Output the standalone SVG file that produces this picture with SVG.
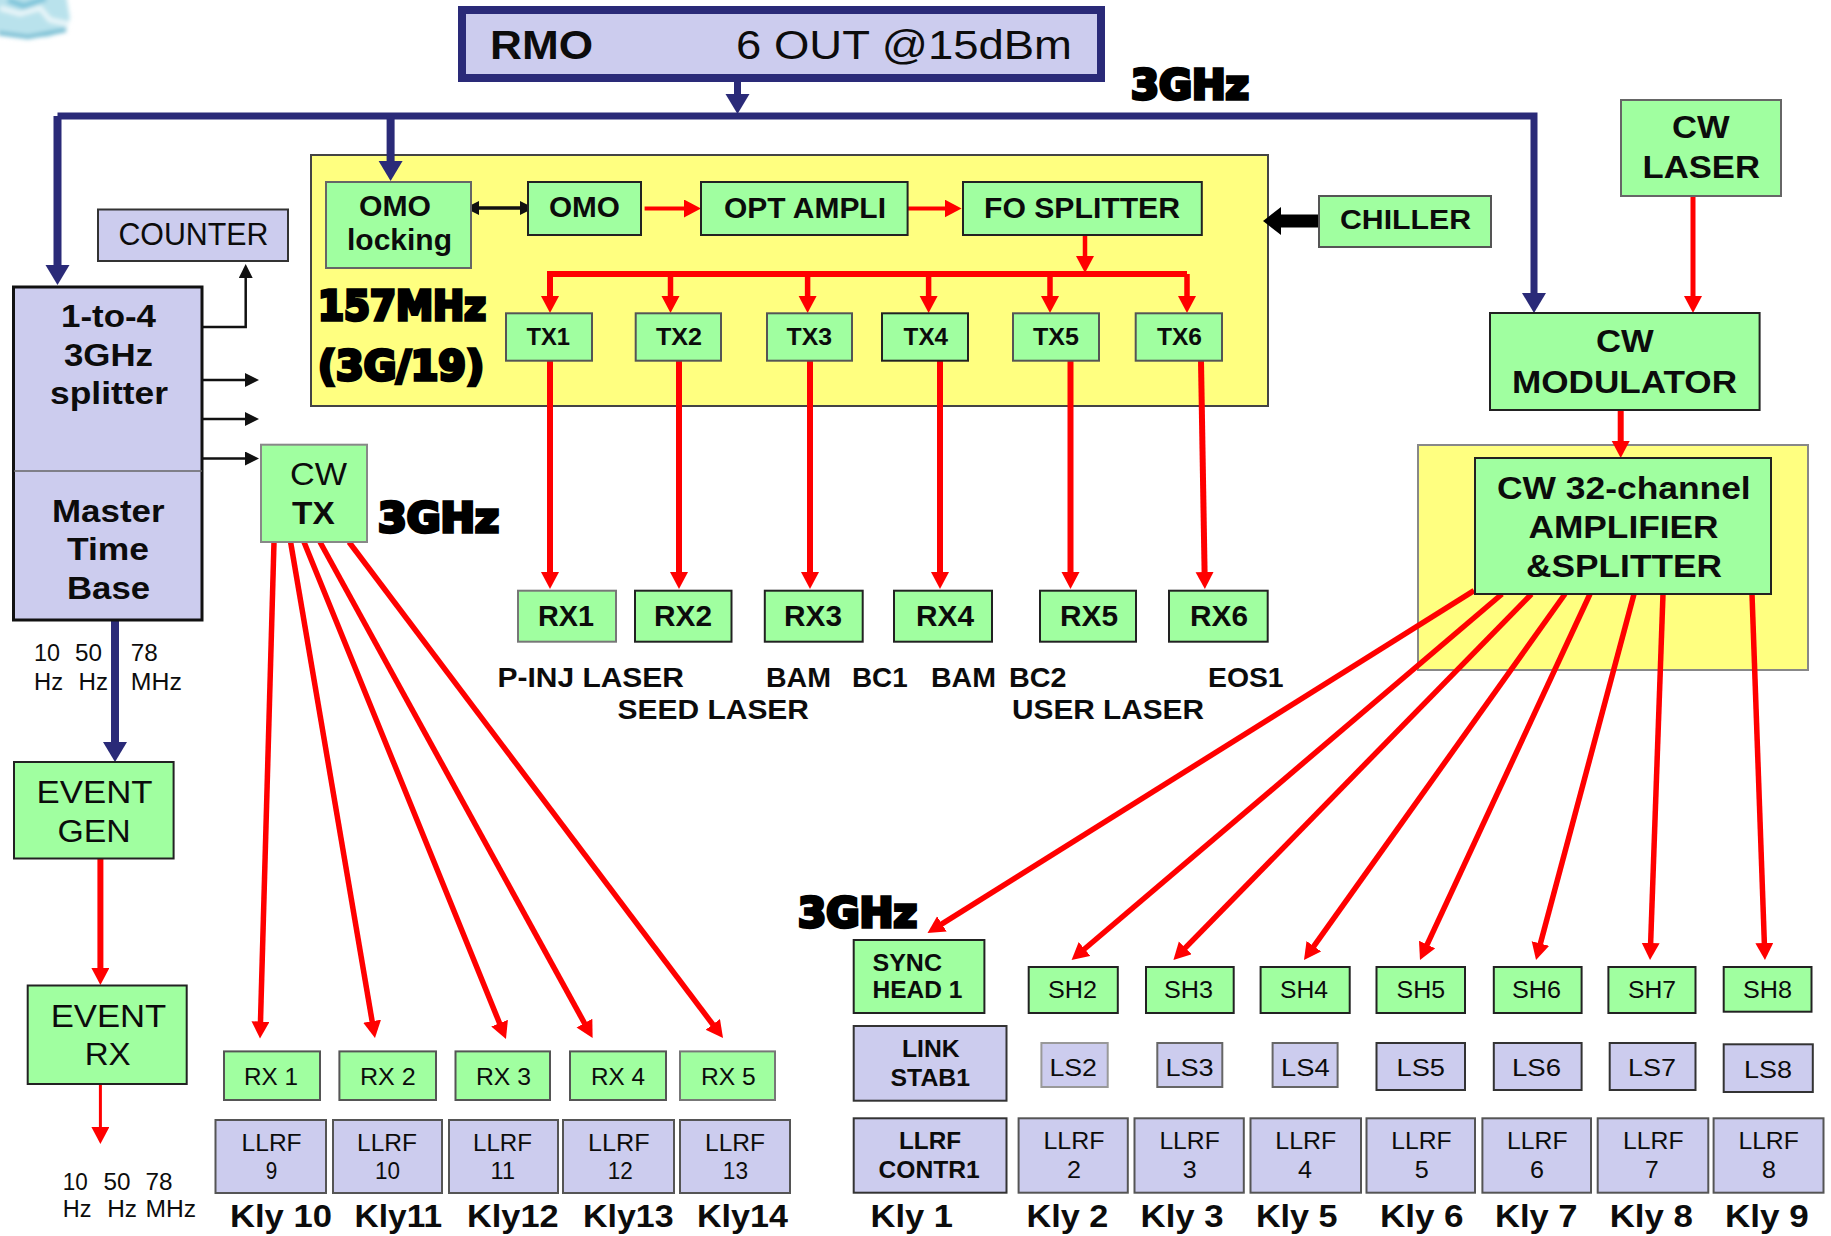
<svg xmlns="http://www.w3.org/2000/svg" width="1831" height="1236" viewBox="0 0 1831 1236">
<style>
text{font-family:"Liberation Sans",Arial,sans-serif;fill:#0c0c0c}
.b{font-weight:bold}
.s22{font-size:22px}.s23{font-size:23px}.s24{font-size:24px}.s27{font-size:27px}.s29{font-size:29px}.s31{font-size:31px}.s32{font-size:32px}.s40{font-size:40px}
.h{font-family:"DejaVu Sans",sans-serif;font-weight:bold;font-size:40px;fill:#000;stroke:#000;stroke-width:3.5px;paint-order:stroke}
.g{fill:#a0ffa0;stroke:#222;stroke-width:2}
.l{fill:#ccccee;stroke:#333;stroke-width:2}
.y{fill:#ffff80;stroke:#444;stroke-width:2}
.r{stroke:#ff0000;stroke-width:5.5;fill:none;marker-end:url(#ar)}
.n{stroke:#2a2a78;stroke-width:8;fill:none;marker-end:url(#an)}
.k{stroke:#111;stroke-width:2.5;fill:none;marker-end:url(#ak)}
</style>
<defs>
<marker id="ar" markerUnits="userSpaceOnUse" markerWidth="20" markerHeight="20" refX="7" refY="9" orient="auto"><path d="M0,0L17,9L0,18z" fill="#ff0000"/></marker>
<marker id="an" markerUnits="userSpaceOnUse" markerWidth="24" markerHeight="26" refX="8" refY="12" orient="auto"><path d="M0,0L20,12L0,24z" fill="#2a2a78"/></marker>
<marker id="ak" markerUnits="userSpaceOnUse" markerWidth="16" markerHeight="16" refX="6" refY="7" orient="auto"><path d="M0,0L14,7L0,14z" fill="#111"/></marker>
<marker id="ad" markerUnits="userSpaceOnUse" markerWidth="16" markerHeight="16" refX="6" refY="7" orient="auto-start-reverse"><path d="M0,0L14,7L0,14z" fill="#111"/></marker>
<marker id="ab" markerUnits="userSpaceOnUse" markerWidth="20" markerHeight="30" refX="0" refY="14" orient="auto"><path d="M0,0L18,14L0,28z" fill="#000"/></marker>
<filter id="soft" x="-20%" y="-20%" width="140%" height="140%"><feGaussianBlur stdDeviation="2"/></filter>
</defs>
<rect width="1831" height="1236" fill="#fff"/>
<g id="logo" filter="url(#soft)">
<path d="M-5,-5H66L70,18L66,30L48,37H12L-5,30z" fill="#b9e2ec"/>
<path d="M0,8L20,14L40,8L50,20L68,24" fill="none" stroke="#eaf6f9" stroke-width="5"/>
<path d="M-2,33L28,37L66,30" fill="none" stroke="#6db9d0" stroke-width="4"/>
<path d="M8,0L24,6L46,-2" fill="none" stroke="#7fc5da" stroke-width="6"/>
</g>
<g id="panel-fo"><rect class="y" x="311" y="155" width="957" height="251"/></g>
<g id="panel-cw"><rect x="1418" y="445" width="390" height="225" fill="#ffff80" stroke="#888" stroke-width="2"/></g>
<g id="connectors">
<path d="M737.5,82V102" class="n" style="stroke-width:7"/>
<path d="M57.5,116V273" class="n"/>
<path d="M57.5,116H1534V301" class="n" style="stroke-width:7"/>
<path d="M390.6,116V169" class="n"/>
<path d="M115,621V750" class="n"/>
<path d="M202,327H245.7V272" class="k"/>
<path d="M202,380H251" class="k"/>
<path d="M202,419H251" class="k"/>
<path d="M202,458.5H251" class="k"/>
<path d="M473,208H526" fill="none" stroke="#111" stroke-width="3.5" marker-start="url(#ad)" marker-end="url(#ad)"/>
<path d="M644.6,208.5H691" class="r" style="stroke-width:4"/>
<path d="M906,208.5H951.6" class="r" style="stroke-width:4"/>
<path d="M1085,235V263" class="r" style="stroke-width:4.5"/>
<path d="M550,303V274H1187" fill="none" stroke="#ff0000" stroke-width="6" marker-end="none"/>
<path d="M550,274V303" class="r"/>
<path d="M670.5,274V303" class="r"/>
<path d="M807.6,274V303" class="r"/>
<path d="M928.6,274V303" class="r"/>
<path d="M1050,274V303" class="r"/>
<path d="M1187,274V303" class="r"/>
<path d="M550,361V579" class="r" style="stroke-width:6"/>
<path d="M679,361V579" class="r" style="stroke-width:6"/>
<path d="M810,361V579" class="r" style="stroke-width:6"/>
<path d="M940,361V579" class="r" style="stroke-width:6"/>
<path d="M1070.5,361V579" class="r" style="stroke-width:6"/>
<path d="M1201,361L1204.7,579" class="r" style="stroke-width:6"/>
<path d="M100.4,858V975" class="r" style="stroke-width:6"/>
<path d="M100.4,1084V1134" class="r" style="stroke-width:3"/>
<path d="M274,542L260.3,1028.5" class="r"/>
<path d="M290.6,542L373.3,1028.1" class="r"/>
<path d="M304,542L502.2,1029.7" class="r"/>
<path d="M320,542L587.8,1029.2" class="r"/>
<path d="M349,542L717,1030" class="r"/>
<path d="M1693,196V303" class="r" style="stroke-width:5"/>
<path d="M1620.7,410V448" class="r" style="stroke-width:6"/>
<path d="M1319,221H1281" fill="none" stroke="#000" stroke-width="13" marker-end="url(#ab)"/>
<path d="M1474,590.6L936,927.7" class="r"/>
<path d="M1502,594L1079.2,953.5" class="r"/>
<path d="M1531.5,594L1180.4,952.9" class="r"/>
<path d="M1565,594L1309.8,951.9" class="r"/>
<path d="M1590,594L1424.2,950.9" class="r"/>
<path d="M1634,594L1538.6,950.3" class="r"/>
<path d="M1663,594L1650.4,950" class="r"/>
<path d="M1752,594L1764.6,950" class="r"/>
</g>
<g id="rmo"><rect x="462" y="10" width="639" height="68" fill="#ccccee" stroke="#2a2a78" stroke-width="8"/>
<text class="b s40" x="490" y="58.5" textLength="103" lengthAdjust="spacingAndGlyphs">RMO</text>
<text class="s40" x="736" y="59" textLength="336" lengthAdjust="spacingAndGlyphs">6 OUT @15dBm</text></g>
<g id="label-3ghz-top"><text class="h" x="1131" y="99" textLength="118" lengthAdjust="spacingAndGlyphs">3GHz</text></g>
<g id="omo-locking"><rect class="g" style="stroke:#666" x="326" y="182" width="145" height="86"/>
<text class="b s29" x="359" y="216" textLength="72" lengthAdjust="spacingAndGlyphs">OMO</text>
<text class="b s29" x="347" y="250" textLength="105" lengthAdjust="spacingAndGlyphs">locking</text></g>
<g id="omo"><rect class="g" x="528" y="182" width="113" height="53"/><text class="b s29" x="549" y="216.6" textLength="71" lengthAdjust="spacingAndGlyphs">OMO</text></g>
<g id="opt-ampli"><rect class="g" x="701" y="182" width="206.6" height="53"/><text class="b s29" x="724" y="217.7" textLength="162" lengthAdjust="spacingAndGlyphs">OPT AMPLI</text></g>
<g id="fo-splitter"><rect class="g" x="963" y="182" width="238.8" height="53"/><text class="b s29" x="984" y="217.7" textLength="196" lengthAdjust="spacingAndGlyphs">FO SPLITTER</text></g>
<g id="label-157"><text class="h" x="318" y="320" textLength="168" lengthAdjust="spacingAndGlyphs">157MHz</text><text class="h" x="318" y="380" textLength="166" lengthAdjust="spacingAndGlyphs">(3G/19)</text></g>
<g id="tx1"><rect class="g" style="stroke:#555" x="506" y="313.3" width="86" height="47.4"/><text class="b s24" x="526.5" y="345" textLength="43.5" lengthAdjust="spacingAndGlyphs">TX1</text></g>
<g id="tx2"><rect class="g" style="stroke:#555" x="635.7" y="313.3" width="85.3" height="47.4"/><text class="b s24" x="656" y="345" textLength="46" lengthAdjust="spacingAndGlyphs">TX2</text></g>
<g id="tx3"><rect class="g" style="stroke:#555" x="767" y="313.3" width="85" height="47.4"/><text class="b s24" x="786.6" y="345" textLength="45.4" lengthAdjust="spacingAndGlyphs">TX3</text></g>
<g id="tx4"><rect class="g" x="882" y="313.3" width="86" height="47.4"/><text class="b s24" x="903.6" y="345" textLength="44.4" lengthAdjust="spacingAndGlyphs">TX4</text></g>
<g id="tx5"><rect class="g" style="stroke:#555" x="1013" y="313.3" width="86" height="47.4"/><text class="b s24" x="1033" y="345" textLength="46" lengthAdjust="spacingAndGlyphs">TX5</text></g>
<g id="tx6"><rect class="g" style="stroke:#555" x="1135.7" y="313.3" width="86.3" height="47.4"/><text class="b s24" x="1157" y="345" textLength="45" lengthAdjust="spacingAndGlyphs">TX6</text></g>
<g id="rx1"><rect class="g" style="stroke:#777" x="518" y="590.7" width="98" height="51"/><text class="b s29" x="538" y="626" textLength="56" lengthAdjust="spacingAndGlyphs">RX1</text></g>
<g id="rx2"><rect class="g" x="635" y="590.7" width="96.5" height="51"/><text class="b s29" x="654" y="626" textLength="58" lengthAdjust="spacingAndGlyphs">RX2</text></g>
<g id="rx3"><rect class="g" x="764.8" y="590.7" width="97.9" height="51"/><text class="b s29" x="784" y="626" textLength="58" lengthAdjust="spacingAndGlyphs">RX3</text></g>
<g id="rx4"><rect class="g" x="894" y="590.7" width="98" height="51"/><text class="b s29" x="916" y="626" textLength="58" lengthAdjust="spacingAndGlyphs">RX4</text></g>
<g id="rx5"><rect class="g" x="1040" y="590.7" width="96" height="51"/><text class="b s29" x="1060" y="626" textLength="58" lengthAdjust="spacingAndGlyphs">RX5</text></g>
<g id="rx6"><rect class="g" x="1169" y="590.7" width="98.7" height="51"/><text class="b s29" x="1190" y="626" textLength="58" lengthAdjust="spacingAndGlyphs">RX6</text></g>
<g id="laser-labels">
<text class="b s27" x="497.5" y="687" textLength="186.5" lengthAdjust="spacingAndGlyphs">P-INJ LASER</text>
<text class="b s27" x="766" y="687" textLength="65" lengthAdjust="spacingAndGlyphs">BAM</text>
<text class="b s27" x="852" y="687" textLength="55.7" lengthAdjust="spacingAndGlyphs">BC1</text>
<text class="b s27" x="931" y="687" textLength="65" lengthAdjust="spacingAndGlyphs">BAM</text>
<text class="b s27" x="1009" y="687" textLength="57.5" lengthAdjust="spacingAndGlyphs">BC2</text>
<text class="b s27" x="1208" y="687" textLength="75.6" lengthAdjust="spacingAndGlyphs">EOS1</text>
<text class="b s27" x="617.6" y="719" textLength="191.4" lengthAdjust="spacingAndGlyphs">SEED LASER</text>
<text class="b s27" x="1012" y="719" textLength="192" lengthAdjust="spacingAndGlyphs">USER LASER</text>
</g>
<g id="counter"><rect class="l" x="98" y="209.5" width="190" height="51.5"/><text class="s31" x="118.4" y="245" textLength="150" lengthAdjust="spacingAndGlyphs">COUNTER</text></g>
<g id="splitter"><rect x="13.5" y="287" width="188.5" height="333" fill="#ccccee" stroke="#111" stroke-width="3"/><line x1="14" y1="471" x2="202" y2="471" stroke="#666" stroke-width="1.5"/>
<text class="b s31" x="61" y="327" textLength="95" lengthAdjust="spacingAndGlyphs">1-to-4</text>
<text class="b s31" x="64" y="365.6" textLength="89" lengthAdjust="spacingAndGlyphs">3GHz</text>
<text class="b s31" x="50" y="404" textLength="118" lengthAdjust="spacingAndGlyphs">splitter</text>
<text class="b s31" x="52" y="522" textLength="112.5" lengthAdjust="spacingAndGlyphs">Master</text>
<text class="b s31" x="67" y="560" textLength="82" lengthAdjust="spacingAndGlyphs">Time</text>
<text class="b s31" x="67" y="599" textLength="83" lengthAdjust="spacingAndGlyphs">Base</text></g>
<g id="cw-tx"><rect class="g" style="stroke:#888" x="261" y="444.7" width="106" height="97.3"/>
<text class="s31" x="290" y="485" textLength="57" lengthAdjust="spacingAndGlyphs">CW</text>
<text class="b s31" x="292" y="523.7" textLength="42.7" lengthAdjust="spacingAndGlyphs">TX</text></g>
<g id="label-3ghz-cwtx"><text class="h" x="378" y="532" textLength="121" lengthAdjust="spacingAndGlyphs">3GHz</text></g>
<g id="rates-top">
<text class="s23" x="34" y="661" textLength="26" lengthAdjust="spacingAndGlyphs">10</text>
<text class="s23" x="75" y="661" textLength="27" lengthAdjust="spacingAndGlyphs">50</text>
<text class="s23" x="130.8" y="661" textLength="27" lengthAdjust="spacingAndGlyphs">78</text>
<text class="s23" x="34" y="689.5" textLength="29" lengthAdjust="spacingAndGlyphs">Hz</text>
<text class="s23" x="78.5" y="689.5" textLength="29.5" lengthAdjust="spacingAndGlyphs">Hz</text>
<text class="s23" x="130.8" y="689.5" textLength="51" lengthAdjust="spacingAndGlyphs">MHz</text>
</g>
<g id="event-gen"><rect class="g" x="14" y="762" width="159.6" height="96.5"/>
<text class="s32" x="36.6" y="802.7" textLength="116" lengthAdjust="spacingAndGlyphs">EVENT</text>
<text class="s32" x="57.5" y="842" textLength="73.3" lengthAdjust="spacingAndGlyphs">GEN</text></g>
<g id="event-rx"><rect class="g" x="27.7" y="985.5" width="159" height="98.5"/>
<text class="s32" x="50.7" y="1026.7" textLength="115.6" lengthAdjust="spacingAndGlyphs">EVENT</text>
<text class="s32" x="84.7" y="1065" textLength="46" lengthAdjust="spacingAndGlyphs">RX</text></g>
<g id="rates-bottom">
<text class="s23" x="62.8" y="1189.7" textLength="25" lengthAdjust="spacingAndGlyphs">10</text>
<text class="s23" x="103.6" y="1189.7" textLength="27" lengthAdjust="spacingAndGlyphs">50</text>
<text class="s23" x="145.4" y="1189.7" textLength="27" lengthAdjust="spacingAndGlyphs">78</text>
<text class="s23" x="62.8" y="1217" textLength="28.7" lengthAdjust="spacingAndGlyphs">Hz</text>
<text class="s23" x="107.2" y="1217" textLength="29.8" lengthAdjust="spacingAndGlyphs">Hz</text>
<text class="s23" x="145.4" y="1217" textLength="50.6" lengthAdjust="spacingAndGlyphs">MHz</text>
</g>
<g id="rx-1"><rect class="g" style="stroke:#555" x="224" y="1051.4" width="96" height="48.6"/><text class="s24" x="244" y="1085" textLength="54" lengthAdjust="spacingAndGlyphs">RX 1</text></g>
<g id="rx-2"><rect class="g" style="stroke:#555" x="339.4" y="1051.4" width="96.6" height="48.6"/><text class="s24" x="360" y="1085" textLength="55.8" lengthAdjust="spacingAndGlyphs">RX 2</text></g>
<g id="rx-3"><rect class="g" style="stroke:#555" x="455.5" y="1051.4" width="94.5" height="48.6"/><text class="s24" x="476" y="1085" textLength="55" lengthAdjust="spacingAndGlyphs">RX 3</text></g>
<g id="rx-4"><rect class="g" style="stroke:#555" x="570" y="1051.4" width="96" height="48.6"/><text class="s24" x="591" y="1085" textLength="54" lengthAdjust="spacingAndGlyphs">RX 4</text></g>
<g id="rx-5"><rect class="g" style="stroke:#777" x="680" y="1051.4" width="95" height="48.6"/><text class="s24" x="701" y="1085" textLength="54.7" lengthAdjust="spacingAndGlyphs">RX 5</text></g>
<g id="llrf-9"><rect class="l" style="stroke:#555" x="215.5" y="1120" width="110.5" height="73"/><text class="s24" x="241.6" y="1151" textLength="60" lengthAdjust="spacingAndGlyphs">LLRF</text><text class="s24" x="265.7" y="1179" textLength="11.5" lengthAdjust="spacingAndGlyphs">9</text></g>
<g id="llrf-10"><rect class="l" style="stroke:#555" x="333" y="1120" width="109" height="73"/><text class="s24" x="357" y="1151" textLength="60" lengthAdjust="spacingAndGlyphs">LLRF</text><text class="s24" x="375" y="1179" textLength="25" lengthAdjust="spacingAndGlyphs">10</text></g>
<g id="llrf-11"><rect class="l" style="stroke:#555" x="449" y="1120" width="109" height="73"/><text class="s24" x="473" y="1151" textLength="59" lengthAdjust="spacingAndGlyphs">LLRF</text><text class="s24" x="490.6" y="1179" textLength="24.4" lengthAdjust="spacingAndGlyphs">11</text></g>
<g id="llrf-12"><rect class="l" style="stroke:#555" x="563" y="1120" width="111" height="73"/><text class="s24" x="588" y="1151" textLength="61.6" lengthAdjust="spacingAndGlyphs">LLRF</text><text class="s24" x="607.7" y="1179" textLength="25" lengthAdjust="spacingAndGlyphs">12</text></g>
<g id="llrf-13"><rect class="l" style="stroke:#555" x="680" y="1120" width="110" height="73"/><text class="s24" x="705" y="1151" textLength="60" lengthAdjust="spacingAndGlyphs">LLRF</text><text class="s24" x="722.8" y="1179" textLength="25.2" lengthAdjust="spacingAndGlyphs">13</text></g>
<g id="kly-left">
<text class="b s31" x="230" y="1227" textLength="102" lengthAdjust="spacingAndGlyphs">Kly 10</text>
<text class="b s31" x="354.6" y="1227" textLength="87.4" lengthAdjust="spacingAndGlyphs">Kly11</text>
<text class="b s31" x="467" y="1227" textLength="91.6" lengthAdjust="spacingAndGlyphs">Kly12</text>
<text class="b s31" x="583" y="1227" textLength="90.6" lengthAdjust="spacingAndGlyphs">Kly13</text>
<text class="b s31" x="697" y="1227" textLength="91" lengthAdjust="spacingAndGlyphs">Kly14</text>
</g>
<g id="chiller"><rect class="g" style="stroke:#555" x="1319" y="196" width="172" height="51"/><text class="b s27" x="1340" y="229.4" textLength="131" lengthAdjust="spacingAndGlyphs">CHILLER</text></g>
<g id="cw-laser"><rect class="g" style="stroke:#666" x="1621" y="100" width="160" height="96"/>
<text class="b s31" x="1672" y="137.5" textLength="57.6" lengthAdjust="spacingAndGlyphs">CW</text>
<text class="b s31" x="1642.6" y="177.5" textLength="117.4" lengthAdjust="spacingAndGlyphs">LASER</text></g>
<g id="cw-modulator"><rect class="g" x="1490" y="313" width="269.6" height="97"/>
<text class="b s31" x="1596" y="352" textLength="57.7" lengthAdjust="spacingAndGlyphs">CW</text>
<text class="b s31" x="1512" y="392.6" textLength="225" lengthAdjust="spacingAndGlyphs">MODULATOR</text></g>
<g id="cw-amp"><rect class="g" x="1475" y="458" width="296" height="136"/>
<text class="b s31" x="1497" y="498.8" textLength="253.7" lengthAdjust="spacingAndGlyphs">CW 32-channel</text>
<text class="b s31" x="1528.5" y="537.6" textLength="190" lengthAdjust="spacingAndGlyphs">AMPLIFIER</text>
<text class="b s31" x="1526" y="577" textLength="196" lengthAdjust="spacingAndGlyphs">&amp;SPLITTER</text></g>
<g id="label-3ghz-bottom"><text class="h" x="798" y="927" textLength="119" lengthAdjust="spacingAndGlyphs">3GHz</text></g>
<g id="sync-head"><rect class="g" x="853.7" y="940" width="130.7" height="73"/>
<text class="b s23" x="872.5" y="970.7" textLength="69.5" lengthAdjust="spacingAndGlyphs">SYNC</text>
<text class="b s23" x="872.5" y="998.3" textLength="89.8" lengthAdjust="spacingAndGlyphs">HEAD 1</text></g>
<g id="sh2"><rect class="g" x="1028.7" y="967" width="89.1" height="46"/><text class="s23" x="1048" y="997.7" textLength="49" lengthAdjust="spacingAndGlyphs">SH2</text></g>
<g id="sh3"><rect class="g" x="1146" y="967" width="87.7" height="46"/><text class="s23" x="1164" y="997.7" textLength="49" lengthAdjust="spacingAndGlyphs">SH3</text></g>
<g id="sh4"><rect class="g" x="1260.6" y="967" width="89.1" height="46"/><text class="s23" x="1280" y="997.7" textLength="48" lengthAdjust="spacingAndGlyphs">SH4</text></g>
<g id="sh5"><rect class="g" x="1376.5" y="967" width="88.5" height="46"/><text class="s23" x="1396.6" y="997.7" textLength="48.4" lengthAdjust="spacingAndGlyphs">SH5</text></g>
<g id="sh6"><rect class="g" x="1493.8" y="967" width="87.8" height="46"/><text class="s23" x="1512" y="997.7" textLength="49" lengthAdjust="spacingAndGlyphs">SH6</text></g>
<g id="sh7"><rect class="g" x="1608.4" y="967" width="87.1" height="46"/><text class="s23" x="1628" y="997.7" textLength="48" lengthAdjust="spacingAndGlyphs">SH7</text></g>
<g id="sh8"><rect class="g" x="1723.7" y="967" width="87.8" height="44.7"/><text class="s23" x="1743" y="997.7" textLength="49" lengthAdjust="spacingAndGlyphs">SH8</text></g>
<g id="link-stab"><rect class="l" x="853.7" y="1026" width="152.8" height="74.7"/>
<text class="b s23" x="902" y="1057" textLength="57.6" lengthAdjust="spacingAndGlyphs">LINK</text>
<text class="b s23" x="890.6" y="1086" textLength="79.4" lengthAdjust="spacingAndGlyphs">STAB1</text></g>
<g id="ls2"><rect class="l" style="stroke:#999" x="1041.4" y="1043" width="66.3" height="44"/><text class="s24" x="1049.4" y="1075.7" textLength="47.6" lengthAdjust="spacingAndGlyphs">LS2</text></g>
<g id="ls3"><rect class="l" style="stroke:#666" x="1157.3" y="1043" width="65" height="44"/><text class="s24" x="1165.4" y="1075.7" textLength="48.2" lengthAdjust="spacingAndGlyphs">LS3</text></g>
<g id="ls4"><rect class="l" style="stroke:#666" x="1272.6" y="1043" width="65" height="44"/><text class="s24" x="1281" y="1075.7" textLength="48.6" lengthAdjust="spacingAndGlyphs">LS4</text></g>
<g id="ls5"><rect class="l" x="1376.5" y="1043" width="88.5" height="47"/><text class="s24" x="1396.6" y="1075.7" textLength="48.4" lengthAdjust="spacingAndGlyphs">LS5</text></g>
<g id="ls6"><rect class="l" x="1493.8" y="1043" width="87.8" height="47"/><text class="s24" x="1512" y="1075.7" textLength="49" lengthAdjust="spacingAndGlyphs">LS6</text></g>
<g id="ls7"><rect class="l" x="1609.7" y="1043" width="85.8" height="47"/><text class="s24" x="1628" y="1075.7" textLength="48" lengthAdjust="spacingAndGlyphs">LS7</text></g>
<g id="ls8"><rect class="l" x="1723.7" y="1044.3" width="89.1" height="47.7"/><text class="s24" x="1744" y="1078" textLength="48" lengthAdjust="spacingAndGlyphs">LS8</text></g>
<g id="llrf-contr"><rect class="l" x="853.7" y="1118.3" width="152.8" height="74.4"/>
<text class="b s24" x="899" y="1149" textLength="62" lengthAdjust="spacingAndGlyphs">LLRF</text>
<text class="b s24" x="878.5" y="1178" textLength="101.2" lengthAdjust="spacingAndGlyphs">CONTR1</text></g>
<g id="llrf-2"><rect class="l" style="stroke:#555" x="1018.6" y="1118.3" width="109.2" height="74.4"/><text class="s24" x="1043.4" y="1149" textLength="61" lengthAdjust="spacingAndGlyphs">LLRF</text><text class="s24" x="1066.9" y="1178" textLength="14" lengthAdjust="spacingAndGlyphs">2</text></g>
<g id="llrf-3"><rect class="l" style="stroke:#555" x="1134.5" y="1118.3" width="109.3" height="74.4"/><text class="s24" x="1159.4" y="1149" textLength="60.3" lengthAdjust="spacingAndGlyphs">LLRF</text><text class="s24" x="1182.8" y="1178" textLength="14" lengthAdjust="spacingAndGlyphs">3</text></g>
<g id="llrf-4"><rect class="l" style="stroke:#555" x="1250.5" y="1118.3" width="110.5" height="74.4"/><text class="s24" x="1275.3" y="1149" textLength="61" lengthAdjust="spacingAndGlyphs">LLRF</text><text class="s24" x="1298" y="1178" textLength="14" lengthAdjust="spacingAndGlyphs">4</text></g>
<g id="llrf-5"><rect class="l" style="stroke:#555" x="1366.5" y="1118.3" width="108.5" height="74.4"/><text class="s24" x="1391.3" y="1149" textLength="60.3" lengthAdjust="spacingAndGlyphs">LLRF</text><text class="s24" x="1414.7" y="1178" textLength="14" lengthAdjust="spacingAndGlyphs">5</text></g>
<g id="llrf-6"><rect class="l" style="stroke:#555" x="1482.4" y="1118.3" width="108.6" height="74.4"/><text class="s24" x="1507" y="1149" textLength="60.5" lengthAdjust="spacingAndGlyphs">LLRF</text><text class="s24" x="1530" y="1178" textLength="14" lengthAdjust="spacingAndGlyphs">6</text></g>
<g id="llrf-7"><rect class="l" style="stroke:#555" x="1597.7" y="1118.3" width="110.6" height="74.4"/><text class="s24" x="1623" y="1149" textLength="60.5" lengthAdjust="spacingAndGlyphs">LLRF</text><text class="s24" x="1645" y="1178" textLength="13.7" lengthAdjust="spacingAndGlyphs">7</text></g>
<g id="llrf-8"><rect class="l" style="stroke:#555" x="1713.6" y="1118.3" width="109.9" height="74.4"/><text class="s24" x="1738.4" y="1149" textLength="60.4" lengthAdjust="spacingAndGlyphs">LLRF</text><text class="s24" x="1762" y="1178" textLength="14" lengthAdjust="spacingAndGlyphs">8</text></g>
<g id="kly-right">
<text class="b s31" x="870.5" y="1227" textLength="82.5" lengthAdjust="spacingAndGlyphs">Kly 1</text>
<text class="b s31" x="1026.6" y="1227" textLength="81.8" lengthAdjust="spacingAndGlyphs">Kly 2</text>
<text class="b s31" x="1140.6" y="1227" textLength="83" lengthAdjust="spacingAndGlyphs">Kly 3</text>
<text class="b s31" x="1255.9" y="1227" textLength="81.7" lengthAdjust="spacingAndGlyphs">Kly 5</text>
<text class="b s31" x="1379.9" y="1227" textLength="83.7" lengthAdjust="spacingAndGlyphs">Kly 6</text>
<text class="b s31" x="1495" y="1227" textLength="82.6" lengthAdjust="spacingAndGlyphs">Kly 7</text>
<text class="b s31" x="1609.7" y="1227" textLength="83.2" lengthAdjust="spacingAndGlyphs">Kly 8</text>
<text class="b s31" x="1725" y="1227" textLength="83.8" lengthAdjust="spacingAndGlyphs">Kly 9</text>
</g>
</svg>
